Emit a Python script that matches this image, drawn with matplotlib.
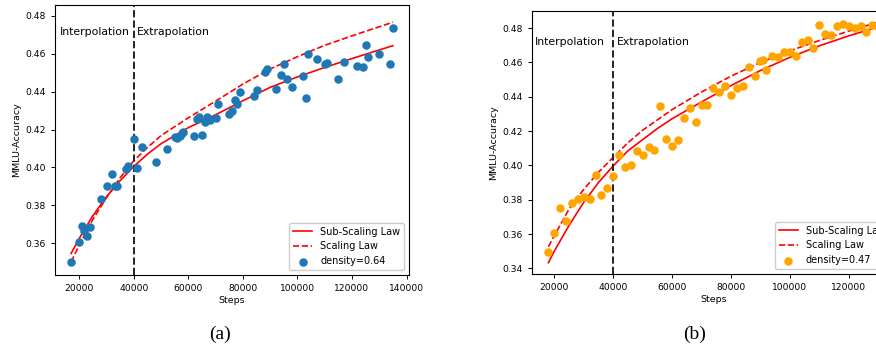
import matplotlib
matplotlib.use("Agg")
import matplotlib.pyplot as plt

# ---------------- data: panel (a) ----------------
steps_a = [17000, 20000, 21000, 21800, 23000, 24000, 28000, 30000, 32000, 33000, 34000,
           37000, 38000, 40000, 41000, 43000, 48000, 52000, 55000, 56000, 57000, 57500,
           58000, 62000, 63000, 64000, 65000, 66000, 66700, 67800, 70000, 71000, 75000,
           76000, 77000, 78000, 79000, 84000, 85000, 88000, 89000, 92000, 94000, 95000,
           96000, 98000, 102000, 103000, 104000, 107000, 110000, 111000, 115000, 117000,
           122000, 124000, 125000, 126000, 130000, 134000, 135000]
acc_a = [0.3498, 0.3604, 0.3688, 0.3663, 0.3639, 0.3685, 0.3833, 0.3900, 0.3963, 0.3900, 0.3900,
         0.3990, 0.4005, 0.4148, 0.3998, 0.4108, 0.4030, 0.4095, 0.4160, 0.4157, 0.4166, 0.4180,
         0.4189, 0.4164, 0.4256, 0.4264, 0.4170, 0.4238, 0.4264, 0.4250, 0.4259, 0.4337, 0.4282,
         0.4300, 0.4356, 0.4333, 0.4396, 0.4375, 0.4409, 0.4506, 0.4522, 0.4416, 0.4490, 0.4546,
         0.4469, 0.4423, 0.4483, 0.4368, 0.4601, 0.4574, 0.4545, 0.4552, 0.4467, 0.4559,
         0.4536, 0.4532, 0.4647, 0.4583, 0.4601, 0.4546, 0.4738]
fit_x_a = [17000, 20000, 25000, 30000, 35000, 40000, 45000, 50000, 60000, 70000, 80000,
           90000, 100000, 110000, 120000, 135000]
sub_a = [0.3545, 0.3625, 0.3745, 0.3845, 0.3930, 0.4005, 0.4070, 0.4125, 0.4210, 0.4278, 0.4352,
         0.4423, 0.4478, 0.4528, 0.4575, 0.4643]
scal_a = [0.3500, 0.3590, 0.3725, 0.3840, 0.3945, 0.4035, 0.4105, 0.4168, 0.4262, 0.4350, 0.4440,
          0.4520, 0.4585, 0.4645, 0.4695, 0.4767]

# ---------------- data: panel (b) ----------------
steps_b = [18000, 20000, 22000, 24000, 26000, 28000, 30000, 32000, 34000, 36000, 38000, 40000,
           42000, 44000, 46000, 48000, 50000, 52000, 54000, 56000, 58000, 60000, 62000, 64000,
           66000, 68000, 70000, 72000, 74000, 76000, 78000, 80000, 82000, 84000, 86000, 88000,
           90000, 91000, 92000, 94000, 96000, 98000, 100000, 102000, 104000, 106000, 108000,
           110000, 112000, 114000, 116000, 118000, 120000, 122000, 124000, 126000, 128000, 130000]
acc_b = [0.3495, 0.3604, 0.3754, 0.3676, 0.3779, 0.3804, 0.3814, 0.3806, 0.3946, 0.3830, 0.3871,
         0.3939, 0.4061, 0.3989, 0.4001, 0.4084, 0.4061, 0.4108, 0.4090, 0.4345, 0.4154, 0.4112,
         0.4147, 0.4275, 0.4333, 0.4252, 0.4355, 0.4355, 0.4452, 0.4427, 0.4464, 0.4409, 0.4450,
         0.4464, 0.4571, 0.4520, 0.4609, 0.4613, 0.4557, 0.4639, 0.4631, 0.4660, 0.4660, 0.4635,
         0.4718, 0.4730, 0.4685, 0.4819, 0.4765, 0.4761, 0.4810, 0.4823, 0.4810, 0.4800, 0.4814,
         0.4777, 0.4819, 0.4804]
fit_x_b = [18000, 20000, 25000, 30000, 35000, 40000, 45000, 50000, 55000, 60000, 70000, 80000,
           90000, 100000, 110000, 120000, 130000]
sub_b = [0.3433, 0.3500, 0.3650, 0.3785, 0.3900, 0.3997, 0.4085, 0.4150, 0.4215, 0.4272, 0.4370,
         0.4465, 0.4553, 0.4630, 0.4697, 0.4755, 0.4808]
scal_b = [0.3526, 0.3590, 0.3745, 0.3860, 0.3960, 0.4047, 0.4132, 0.4205, 0.4265, 0.4325, 0.4428,
          0.4520, 0.4600, 0.4668, 0.4728, 0.4783, 0.4835]

panels = [
    dict(steps=steps_a, acc=acc_a, fx=fit_x_a, sub=sub_a, scal=scal_a, color="#1f77b4",
         label="density=0.64", rect=[0.0628, 0.2029, 0.4041, 0.7826],
         xlim=(11100, 140900), ylim=(0.3431, 0.4858),
         xticks=[20000, 40000, 60000, 80000, 100000, 120000, 140000],
         yticks=[0.36, 0.38, 0.40, 0.42, 0.44, 0.46, 0.48],
         ty=0.4717, ix=13000, ex=41000),
    dict(steps=steps_b, acc=acc_b, fx=fit_x_b, sub=sub_b, scal=scal_b, color="orange",
         label="density=0.47", rect=[0.6073, 0.2058, 0.4140, 0.7623],
         xlim=(12426, 135600), ylim=(0.3367, 0.4900),
         xticks=[20000, 40000, 60000, 80000, 100000, 120000],
         yticks=[0.34, 0.36, 0.38, 0.40, 0.42, 0.44, 0.46, 0.48],
         ty=0.4722, ix=13400, ex=41200),
]

fig = plt.figure(figsize=(8.76, 3.45), dpi=100)

for p in panels:
    ax = fig.add_axes(p["rect"])
    ax.plot(p["fx"], p["sub"], color="red", lw=1.2, label="Sub-Scaling Law")
    ax.plot(p["fx"], p["scal"], color="red", lw=1.2, ls="--", label="Scaling Law")
    ax.scatter(p["steps"], p["acc"], s=26, color=p["color"], label=p["label"], zorder=3)
    ax.axvline(40000, color="#222222", ls="--", lw=1.4)
    ax.text(p["ix"], p["ty"], "Interpolation", ha="left", va="center", fontsize=7.8)
    ax.text(p["ex"], p["ty"], "Extrapolation", ha="left", va="center", fontsize=7.8)
    ax.set_xlim(*p["xlim"])
    ax.set_ylim(*p["ylim"])
    ax.set_xticks(p["xticks"])
    ax.set_yticks(p["yticks"])
    ax.set_yticklabels([f"{v:.2f}" for v in p["yticks"]])
    ax.tick_params(labelsize=6.6, length=3, width=0.7)
    ax.set_xlabel("Steps", fontsize=6.8, labelpad=2)
    ax.set_ylabel("MMLU-Accuracy", fontsize=6.8, labelpad=3)
    for s in ax.spines.values():
        s.set_linewidth(0.8)
    ax.legend(loc="lower right", fontsize=7, framealpha=1)

fig.text(220 / 876, 1 - 334 / 345, "(a)", ha="center", va="center",
         fontsize=14, family="Liberation Serif")
fig.text(695 / 876, 1 - 334 / 345, "(b)", ha="center", va="center",
         fontsize=14, family="Liberation Serif")

fig.savefig("out.png", dpi=100)
